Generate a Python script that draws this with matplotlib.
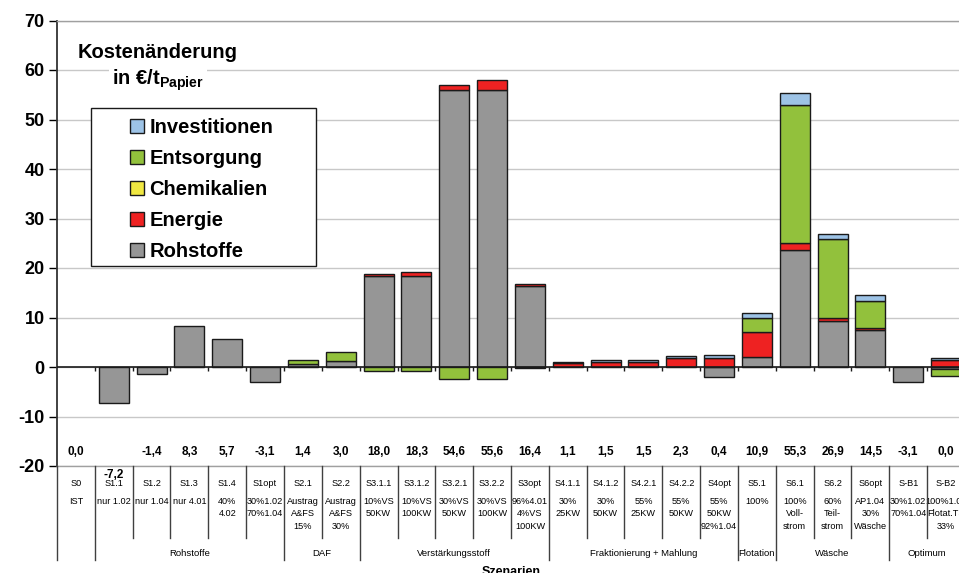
import numpy as np
import matplotlib
matplotlib.use("Agg")
import matplotlib.pyplot as plt
from matplotlib.patches import Patch, Rectangle
from matplotlib.lines import Line2D
from matplotlib.transforms import blended_transform_factory

plt.rcParams["font.family"] = ["Liberation Sans", "DejaVu Sans"]
plt.rcParams["axes.unicode_minus"] = False
plt.rcParams["mathtext.fontset"] = "custom"
plt.rcParams["mathtext.bf"] = "Liberation Sans:bold"
plt.rcParams["mathtext.rm"] = "Liberation Sans"

# Szenarien und Beschreibung (Kategorieachse)
szenarien = ["S0", "S1.1", "S1.2", "S1.3", "S1.4", "S1opt", "S2.1", "S2.2",
             "S3.1.1", "S3.1.2", "S3.2.1", "S3.2.2", "S3opt",
             "S4.1.1", "S4.1.2", "S4.2.1", "S4.2.2", "S4opt",
             "S5.1", "S6.1", "S6.2", "S6opt", "S-B1", "S-B2"]
beschreibung = ["IST", "nur 1.02", "nur 1.04", "nur 4.01", "40%\n4.02",
                "30%1.02\n70%1.04", "Austrag\nA&FS\n15%", "Austrag\nA&FS\n30%",
                "10%VS\n50KW", "10%VS\n100KW", "30%VS\n50KW", "30%VS\n100KW",
                "96%4.01\n4%VS\n100KW",
                "30%\n25KW", "30%\n50KW", "55%\n25KW", "55%\n50KW", "55%\n50KW\n92%1.04",
                "100%", "100%\nVoll-\nstrom", "60%\nTeil-\nstrom", "AP1.04\n30%\nWäsche",
                "30%1.02\n70%1.04", "100%1.04\nFlotat.TS\n33%"]
gruppen = ["", "Rohstoffe", "DAF", "Verstärkungsstoff", "Fraktionierung + Mahlung",
           "Flotation", "Wäsche", "Optimum"]
gruppen_start = [0, 1, 6, 8, 13, 18, 19, 22]
gruppen_ende = [0, 5, 7, 12, 17, 18, 21, 23]

# Kostenänderung je Kostenart in EUR/t Papier
rohstoffe = [0, -7.2, -1.4, 8.3, 5.7, -3.1, 0.6, 1.3, 18.3, 18.3, 56.0, 56.0, 16.3,
             0, 0, 0, 0, -2.0, 2.1, 23.6, 9.2, 7.5, -3.1, -0.5]
energie = [0, 0, 0, 0, 0, 0, 0, 0, 0.5, 0.8, 1.0, 2.0, 0.4,
           0.8, 1.1, 1.1, 1.9, 1.9, 4.9, 1.4, 0.8, 0.4, 0, 1.5]
chemikalien = [0] * 24
entsorgung = [0, 0, 0, 0, 0, 0, 0.8, 1.7, -0.8, -0.8, -2.4, -2.4, -0.3,
              0, 0, 0, 0, 0, 3.0, 27.9, 15.8, 5.4, 0, -1.3]
investitionen = [0, 0, 0, 0, 0, 0, 0, 0, 0, 0, 0, 0, 0,
                 0.3, 0.4, 0.4, 0.4, 0.5, 0.9, 2.4, 1.1, 1.2, 0, 0.3]

kostenarten = [
    ("Rohstoffe", rohstoffe, "#969696"),
    ("Energie", energie, "#EE2222"),
    ("Chemikalien", chemikalien, "#F0E842"),
    ("Entsorgung", entsorgung, "#92C13C"),
    ("Investitionen", investitionen, "#9DC3E6"),
]

W, H = 959, 573
fig = plt.figure(figsize=(W / 100, H / 100), dpi=100)


def fx(px):
    return px / W


def fy(py):
    return 1 - py / H


ax = fig.add_axes([fx(57), fy(466), fx(965) - fx(57), fy(20.5) - fy(466)])
n = len(szenarien)
x = np.arange(n)

# gestapelte Balken, positive nach oben, negative nach unten
pos_basis = np.zeros(n)
neg_basis = np.zeros(n)
for name, werte, farbe in kostenarten:
    werte = np.asarray(werte, dtype=float)
    basis = np.where(werte >= 0, pos_basis, neg_basis)
    m = werte != 0
    ax.bar(x[m], werte[m], bottom=basis[m], width=0.79, color=farbe,
           edgecolor="#1a1a1a", linewidth=1.0, zorder=2)
    pos_basis += np.clip(werte, 0, None)
    neg_basis += np.clip(werte, None, 0)

summe = sum(np.asarray(w, dtype=float) for _, w, _ in kostenarten)

ax.set_xlim(-0.5, n - 0.5)
ax.set_ylim(-20, 70)
ax.set_yticks(range(-20, 80, 10))
ax.set_xticks([])
ax.tick_params(axis="y", direction="out", length=6, width=1, pad=3, labelsize=13)
for lbl in ax.get_yticklabels():
    lbl.set_fontweight("bold")
ax.yaxis.grid(True, color="#c8c8c8", linewidth=1)
ax.set_axisbelow(True)
for s in ["top", "bottom", "right"]:
    ax.spines[s].set_color("#a0a0a0")
    ax.spines[s].set_linewidth(1)
ax.spines["left"].set_color("#333333")
ax.spines["left"].set_linewidth(1.3)

# Kategorieachse bei 0 mit Teilstrichen zwischen den Szenarien
ax.axhline(0, color="#1a1a1a", linewidth=1.2, zorder=3)
ax.vlines(x[1:] - 0.5, -0.8, 0, color="#1a1a1a", linewidth=1, zorder=3)

# Summenwerte
label_y = {1: -21.8}
for i, v in enumerate(summe):
    txt = f"{round(v, 1) + 0.0:.1f}".replace(".", ",")
    ax.text(i, label_y.get(i, -17.2), txt, ha="center", va="center",
            fontsize=8.5, fontweight="bold", clip_on=False, zorder=5)

# Tabelle unter der Achse
trans = blended_transform_factory(ax.transData, fig.transFigure)
lang = set(gruppen_start)
for i in range(n + 1):
    unten = 560 if i in lang or i == n else 538
    fig.add_artist(Line2D([i - 0.5, i - 0.5], [fy(466), fy(unten)], transform=trans,
                          color="#404040", linewidth=1))

for i in range(n):
    ax.text(i, fy(483), szenarien[i], transform=trans, ha="center", va="center",
            fontsize=6.6, clip_on=False)
    ax.text(i, fy(497), beschreibung[i], transform=trans, ha="center", va="top",
            fontsize=6.6, linespacing=1.5, clip_on=False)

for name, a, b in zip(gruppen, gruppen_start, gruppen_ende):
    ax.text((a + b) / 2, fy(553), name, transform=trans, ha="center", va="center",
            fontsize=6.8, clip_on=False)

ax.text((n - 1) / 2, fy(566), "Szenarien", transform=trans, ha="center", va="top",
        fontsize=9, fontweight="bold", clip_on=False)

# Titel
fig.text(fx(158), fy(52), "Kostenänderung", ha="center", va="center",
         fontsize=14.5, fontweight="bold",
         bbox=dict(facecolor="white", edgecolor="none", pad=4))
fig.text(fx(158), fy(80), r"in €/t$_{\mathbf{Papier}}$", ha="center", va="center",
         fontsize=14.5, fontweight="bold",
         bbox=dict(facecolor="white", edgecolor="none", pad=2))

# Legende
fig.add_artist(Rectangle((fx(91), fy(266)), fx(316) - fx(91), fy(108) - fy(266),
                         transform=fig.transFigure, facecolor="white",
                         edgecolor="#1a1a1a", linewidth=1, zorder=4))
handles = [Patch(facecolor=f, edgecolor="#1a1a1a", label=nm)
           for nm, _, f in reversed(kostenarten)]
leg = fig.legend(handles=handles, loc="upper left",
                 bbox_to_anchor=(fx(122), fy(110)), frameon=False,
                 prop=dict(size=14.5, weight="bold"), handlelength=0.7,
                 handleheight=0.7, handletextpad=0.25, labelspacing=0.6,
                 borderaxespad=0)
leg.set_zorder(5)

fig.savefig("out.png", dpi=100)
